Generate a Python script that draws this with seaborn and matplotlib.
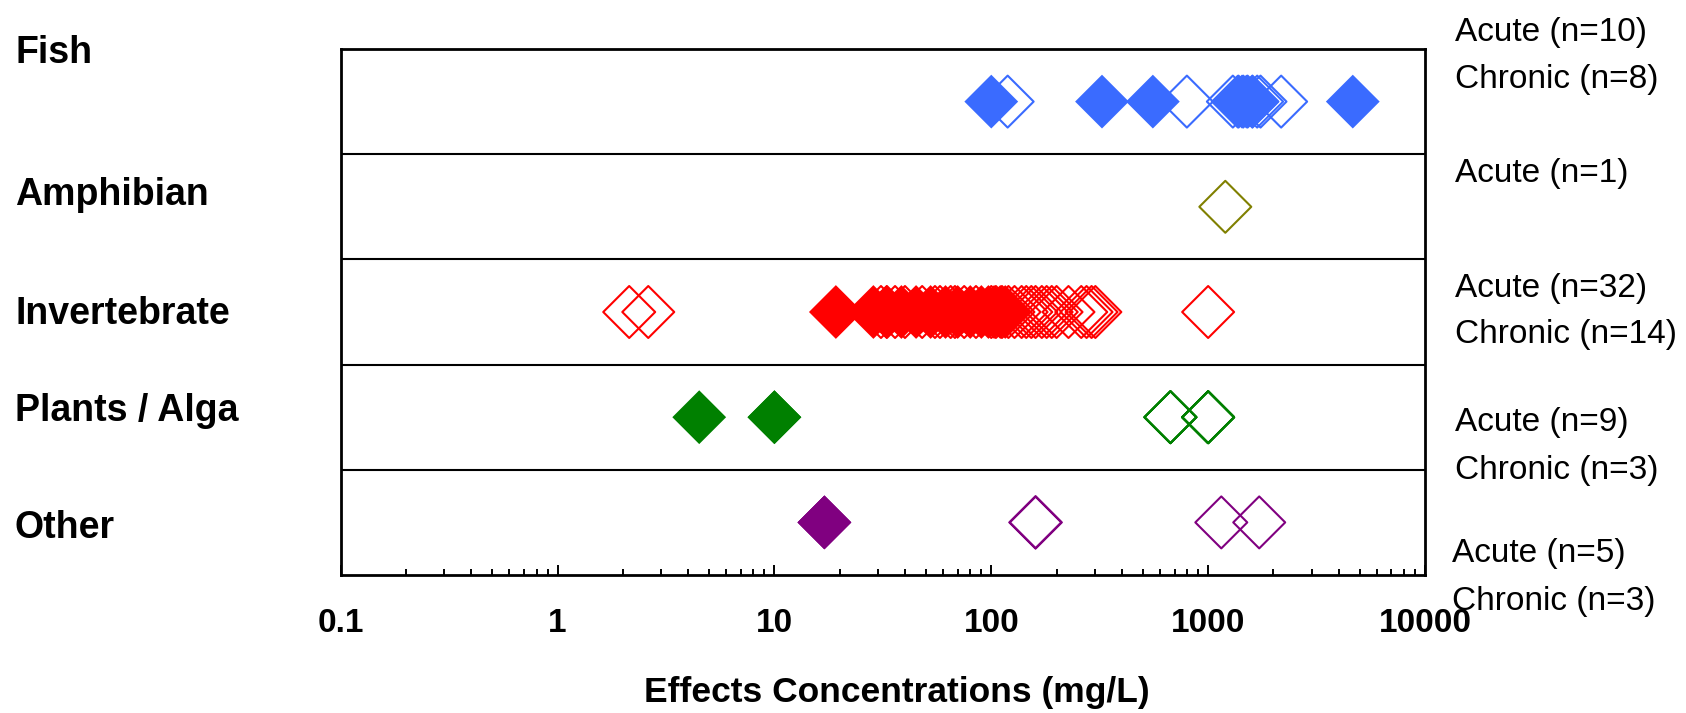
# %%
import matplotlib.pyplot as plt
import numpy as np
import pandas as pd
import seaborn as sns
from matplotlib.path import Path

# %%
# effect concentrations (mg/L)
taxa = ["Fish", "Amphibian", "Invertebrate", "Plants / Alga", "Other"]
colors = ["#3A6BFF", "#808000", "#FF0000", "#008000", "#800080"]

fish_acute = [119, 798, 1300, 1380, 1450, 1520, 1600, 1683, 1744, 2171]
fish_chronic = [100, 324, 556, 1366, 1430, 1500, 1600, 4645]
amph_acute = [1200]
amph_chronic = []
inv_acute = [2.14, 2.62, 31, 33, 36, 40, 48, 55, 58, 65, 68, 75, 85, 100, 105, 112,
             120, 128, 138, 145, 153, 160, 171, 180, 190, 200, 227, 260, 275, 290, 302, 1000]
inv_chronic = [19.2, 28.6, 32.9, 38.5, 45, 52.5, 61.5, 70, 80, 90, 97, 103, 110, 116]
plants_acute = [670, 670, 670, 670, 1000, 1000, 1000, 1000, 1000]
plants_chronic = [4.5, 10, 10]
other_acute = [160, 160, 160, 1150, 1720]
other_chronic = [17, 17, 17]

tick_values = [0.1, 1, 10, 100, 1000, 10000]
tick_labels = ["0.1", "1", "10", "100", "1000", "10000"]

acute = [fish_acute, amph_acute, inv_acute, plants_acute, other_acute]
chronic = [fish_chronic, amph_chronic, inv_chronic, plants_chronic, other_chronic]

rows = []
for i, t in enumerate(taxa):
    rows += [dict(taxon=t, row=i, test="Acute", conc=v) for v in acute[i]]
    rows += [dict(taxon=t, row=i, test="Chronic", conc=v) for v in chronic[i]]
df = pd.DataFrame(rows)

# %%
sns.set_style("white")
plt.rcParams['font.family'] = ['Liberation Sans', 'DejaVu Sans']
plt.rcParams['text.color'] = 'black'
plt.rcParams['xtick.color'] = 'black'
plt.rcParams['axes.labelcolor'] = 'black'

W, H = 1686, 713
fig = plt.figure(figsize=(W / 100, H / 100), dpi=100)
ax = fig.add_axes([340.7 / W, 1 - 575 / H, (1425 - 340.7) / W, (575 - 49) / H])

diamond = Path([(-1, 0), (0, 1), (1, 0), (0, -1), (-1, 0)], closed=True)

for i, t in enumerate(taxa):
    sub = df[df['taxon'] == t]
    a = sub[sub['test'] == 'Acute']
    c = sub[sub['test'] == 'Chronic']
    if len(a):
        sns.scatterplot(data=a, x='conc', y='row', marker=diamond, s=1400, color=colors[i],
                        facecolor='none', edgecolor=colors[i], linewidth=1.5, ax=ax,
                        legend=False, zorder=2)
    if len(c):
        sns.scatterplot(data=c, x='conc', y='row', marker=diamond, s=1500, color=colors[i],
                        edgecolor='none', linewidth=0, ax=ax, legend=False, zorder=3)

ax.set_xscale('log')
ax.set_xlim(0.1, 10000)
ax.set_ylim(4.5, -0.5)
for yy in np.arange(0.5, 4.5, 1):
    ax.axhline(yy, color='black', lw=1.5, zorder=1)

ax.set_yticks([])
ax.set_ylabel('')
ax.set_xticks(tick_values, tick_labels)
ax.xaxis.set_minor_locator(plt.matplotlib.ticker.LogLocator(base=10, subs=np.arange(2, 10)))
ax.xaxis.set_minor_formatter(plt.matplotlib.ticker.NullFormatter())
ax.tick_params(axis='x', which='major', direction='in', length=7, width=1.4, pad=24,
               labelsize=24, bottom=True, color='black')
ax.tick_params(axis='x', which='minor', direction='in', length=4.5, width=1.4, bottom=True,
               color='black')
for lab in ax.get_xticklabels():
    lab.set_fontweight('bold')
for sp in ax.spines.values():
    sp.set_visible(True)
    sp.set_color('black')
    sp.set_linewidth(2)

ax.set_xlabel("Effects Concentrations (mg/L)", fontsize=25.5, fontweight='bold')
ax.xaxis.label.set_va('baseline')
ax.xaxis.set_label_coords((897 - 340.7) / (1425 - 340.7), -(701.7 - 575) / (575 - 49))

# taxon names on the left
name_base = [62.6, 204.8, 324.5, 421.4, 538.4]
for t, yb in zip(taxa, name_base):
    fig.text(15 / W, 1 - yb / H, t, fontsize=27, fontweight='bold', va='baseline', ha='left')

# counts on the right
notes = [
    (1455, 41.1, f"Acute (n={len(fish_acute)})"),
    (1455, 87.8, f"Chronic (n={len(fish_chronic)})"),
    (1455, 181.9, f"Acute (n={len(amph_acute)})"),
    (1455, 297.0, f"Acute (n={len(inv_acute)})"),
    (1455, 342.8, f"Chronic (n={len(inv_chronic)})"),
    (1455, 431.0, f"Acute (n={len(plants_acute)})"),
    (1455, 478.5, f"Chronic (n={len(plants_chronic)})"),
    (1451.7, 562.0, f"Acute (n={len(other_acute)})"),
    (1451.7, 610.0, f"Chronic (n={len(other_chronic)})"),
]
for xp, yb, s in notes:
    fig.text(xp / W, 1 - yb / H, s, fontsize=24, va='baseline', ha='left')

fig.savefig('out.png', dpi=100)
